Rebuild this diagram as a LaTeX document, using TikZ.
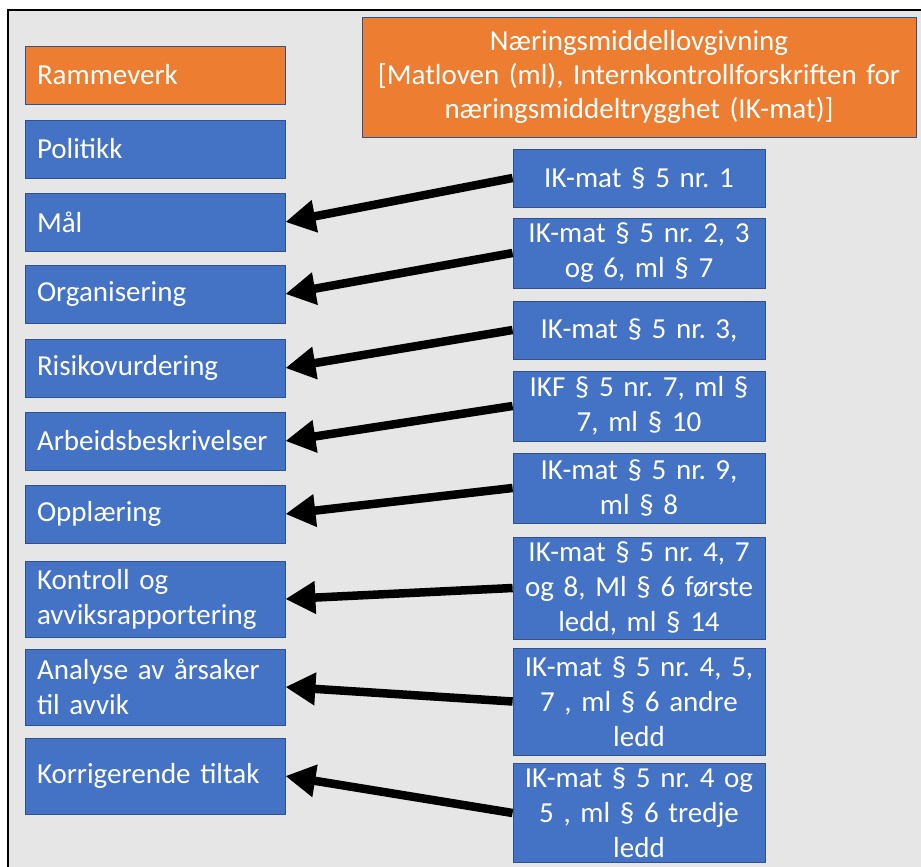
\documentclass[tikz,border=0pt]{standalone}
\usepackage{fontspec}
\setmainfont{Carlito}
\usetikzlibrary{arrows.meta}
\definecolor{bgray}{HTML}{E7E6E6}
\definecolor{pblue}{HTML}{4472C4}
\definecolor{pborder}{HTML}{2F528F}
\definecolor{porange}{HTML}{ED7D31}
\hyphenpenalty=10000
\frenchspacing
\begin{document}
\frenchspacing
\begin{tikzpicture}[x=1pt,y=-1pt,
  boxbase/.style={draw=pborder, line width=0.8pt, text=white, inner sep=0pt,
    font=\fontsize{29}{35}\selectfont},
  lbox/.style={boxbase, fill=pblue, minimum width=260pt, minimum height=58pt,
    text width=236pt, align=left},
  obox/.style={lbox, fill=porange},
  rbox/.style={boxbase, fill=pblue, minimum width=252pt, text width=244pt, align=center},
  arr/.style={line width=8.5pt, -{Triangle[length=30pt,width=31pt]}}
]
\useasboundingbox (0,0) rectangle (921,867);
\draw[fill=bgray, line width=2.5pt] (8,10) rectangle (935,885);

% left column
\node[obox] (l0) at (155,75) {Rammeverk};
\node[lbox] (l1) at (155,149) {Politikk};
\node[lbox] (l2) at (155,222) {Mål};
\node[lbox] (l3) at (155,294) {Organisering};
\node[lbox] (l4) at (155,368) {Risikovurdering};
\node[lbox] (l5) at (155,441) {Arbeidsbeskrivelser};
\node[lbox] (l6) at (155,514) {Opplæring};
\node[lbox, minimum height=76pt] (l7) at (155,599) {Kontroll og\\avviksrapportering};
\node[lbox, minimum height=76pt] (l8) at (155,687) {Analyse av årsaker\\til avvik};
\node[lbox, minimum height=76pt] (l9) at (155,776) {Korrigerende tiltak};

% top right
\node[boxbase, fill=porange, minimum width=554pt, minimum height=120pt,
  text width=545pt, align=center, font=\fontsize{29}{34}\selectfont] (top) at (639,77)
  {Næringsmiddellovgivning\\{[}Matloven (ml), Internkontrollforskriften for\\næringsmiddeltrygghet (IK-mat)]};

% right column
\node[rbox, minimum height=58pt] (r1) at (639,178) {IK-mat § 5 nr. 1};
\node[rbox, minimum height=70pt] (r2) at (639,253) {IK-mat § 5 nr. 2, 3\\og 6, ml § 7};
\node[rbox, minimum height=58pt] (r3) at (639,330) {IK-mat § 5 nr. 3,};
\node[rbox, minimum height=70pt] (r4) at (639,406) {IKF § 5 nr. 7, ml §\\7, ml § 10};
\node[rbox, minimum height=70pt] (r5) at (639,488) {IK-mat § 5 nr. 9,\\ml § 8};
\node[rbox, minimum height=102pt] (r6) at (639,588) {IK-mat § 5 nr. 4, 7\\og 8, Ml § 6 første\\ledd, ml § 14};
\node[rbox, minimum height=107pt] (r7) at (639,701.5) {IK-mat § 5 nr. 4, 5,\\7 , ml § 6 andre\\ledd};
\node[rbox, minimum height=99pt] (r8) at (639,813) {IK-mat § 5 nr. 4 og\\5 , ml § 6 tredje\\ledd};

% arrows
\draw[arr] (r1.west) -- (l2.east);
\draw[arr] (r2.west) -- (l3.east);
\draw[arr] (r3.west) -- (l4.east);
\draw[arr] (r4.west) -- (l5.east);
\draw[arr] (r5.west) -- (l6.east);
\draw[arr] (r6.west) -- (l7.east);
\draw[arr] (r7.west) -- (l8.east);
\draw[arr] (r8.west) -- (l9.east);
\end{tikzpicture}
\end{document}
